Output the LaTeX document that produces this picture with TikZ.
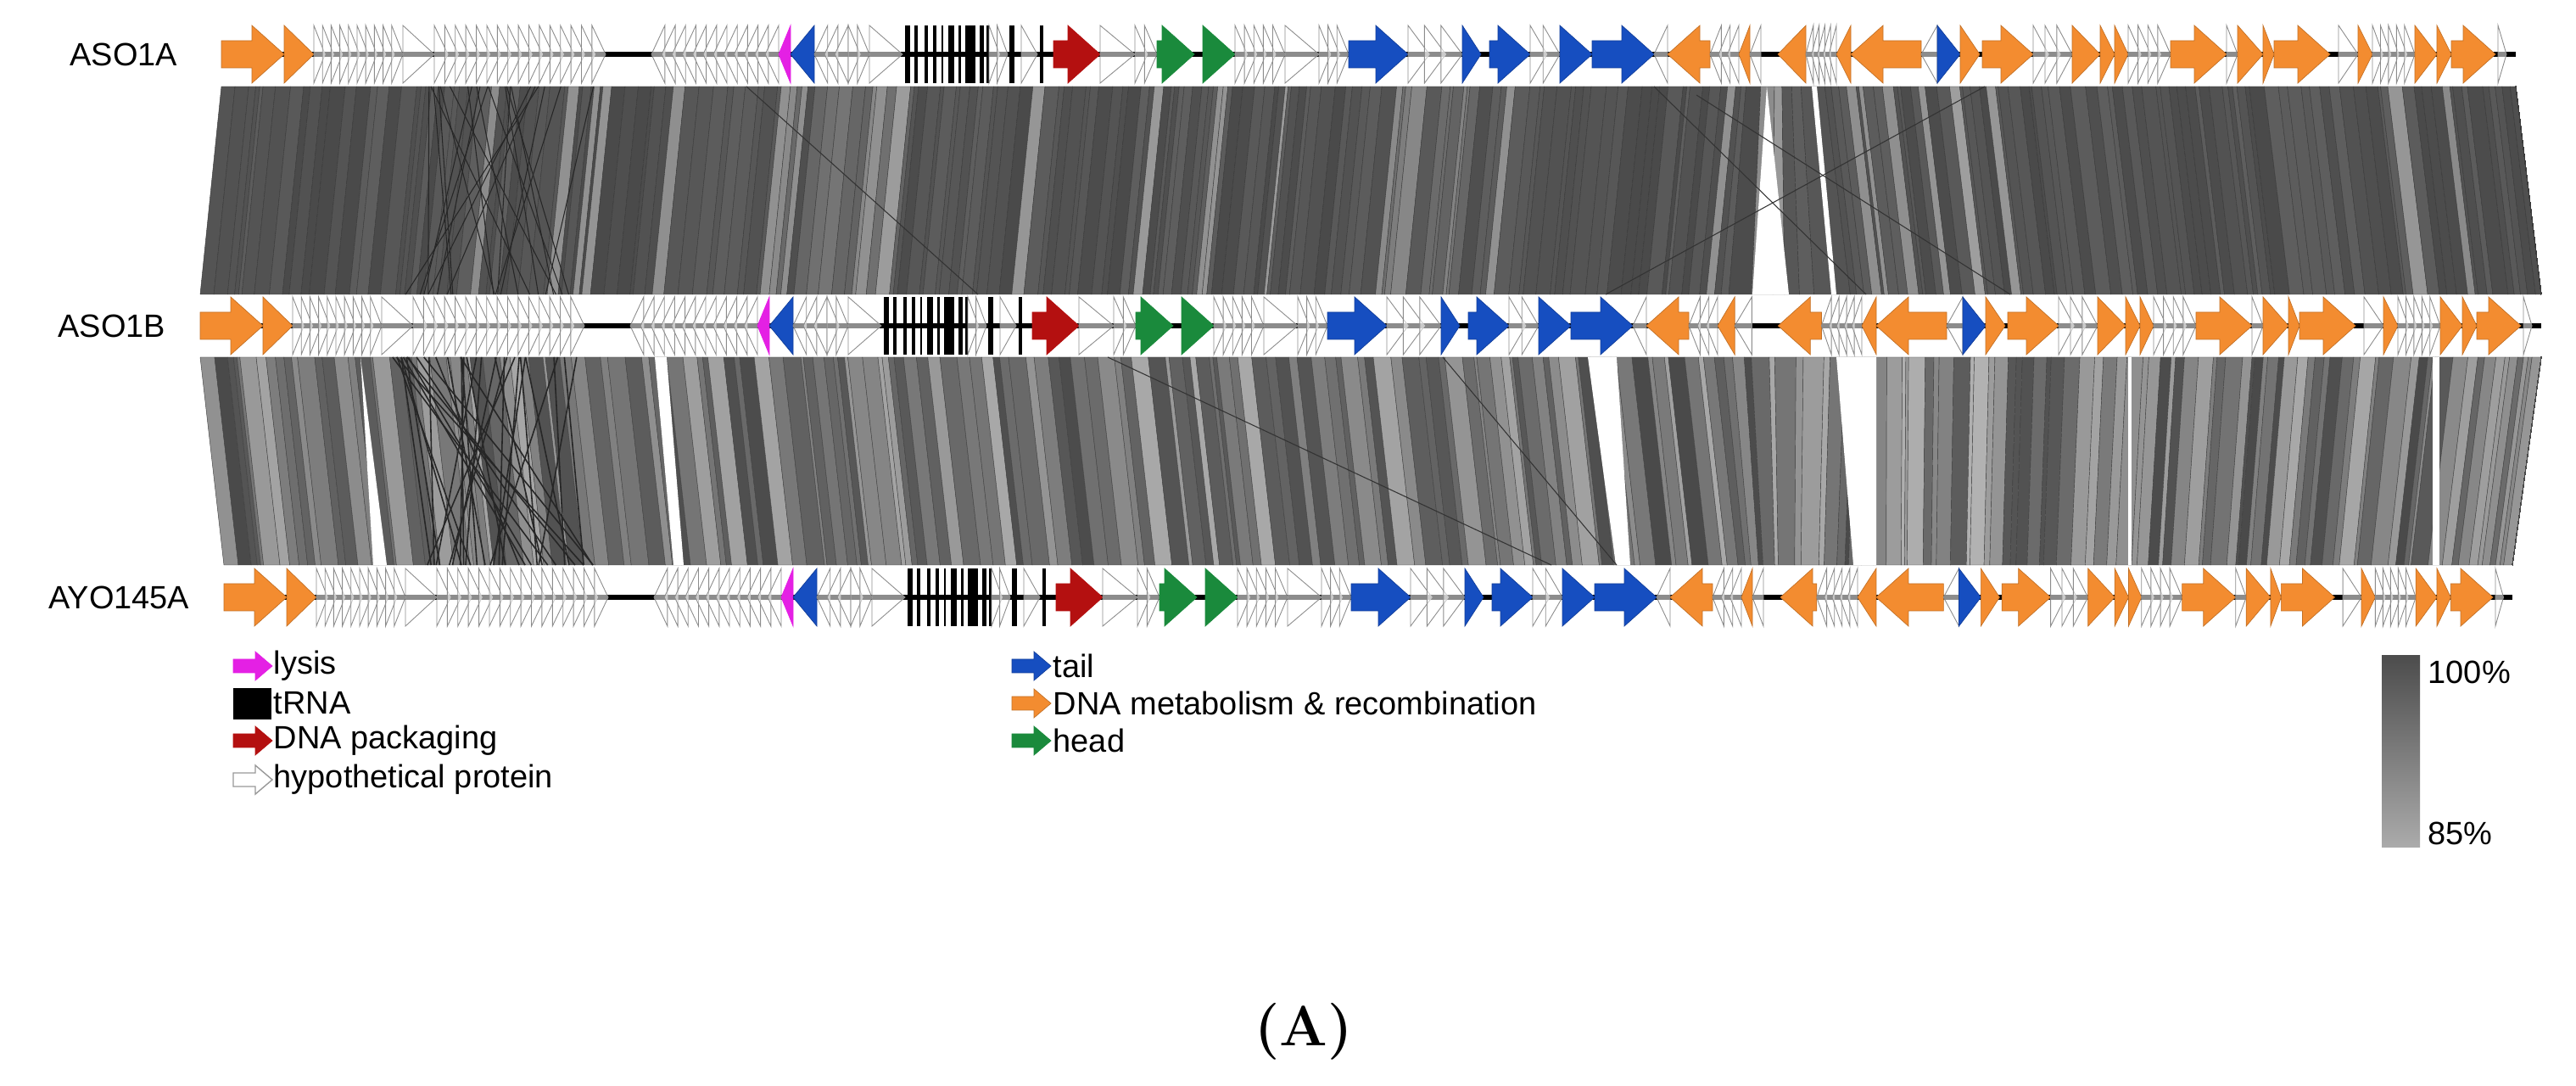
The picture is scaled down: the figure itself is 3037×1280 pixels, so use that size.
\documentclass[tikz,border=0pt]{standalone}
\usepackage{fontspec}
\newfontfamily\lab{Liberation Sans}
\definecolor{org}{RGB}{243,140,48}
\definecolor{tailc}{RGB}{22,78,192}
\definecolor{lysc}{RGB}{228,32,228}
\definecolor{packc}{RGB}{180,16,16}
\definecolor{headc}{RGB}{26,138,60}
\tikzset{
  declare function={
    f1(\x)=\x;
    f2(\x)=\x-25+(\x>2050)*min(55,0.55*(\x-2050));
    f3(\x)=\x+3+(\x>2100)*min(27,0.3375*(\x-2100))-(\x>2180)*0.043257*(\x-2180);
  },
  gorg/.style={fill=org,draw=org!80!black,line width=0.2pt},
  gtail/.style={fill=tailc,draw=tailc!80!black,line width=0.2pt},
  glys/.style={fill=lysc,draw=lysc,line width=0.2pt},
  gpack/.style={fill=packc,draw=packc,line width=0.2pt},
  ghead/.style={fill=headc,draw=headc,line width=0.2pt},
  hyp/.style={fill=white,fill opacity=0.55,draw=black!45,draw opacity=1,line width=0.25pt},
  lbl/.style={font=\lab\fontsize{10.8}{12}\selectfont,inner sep=0pt},
}
\newcommand\Gr[3]{\pgfmathsetmacro\xa{\tf(#1)}\pgfmathsetmacro\xb{\tf(#2)}\pgfmathsetmacro\xh{max(\xa,\xb-38)}%
  \filldraw[#3] (\xa,\ty-16) -- (\xh,\ty-16) -- (\xh,\ty-34) -- (\xb,\ty) -- (\xh,\ty+34) -- (\xh,\ty+16) -- (\xa,\ty+16) -- cycle;}
\newcommand\Gl[3]{\pgfmathsetmacro\xa{\tf(#1)}\pgfmathsetmacro\xb{\tf(#2)}\pgfmathsetmacro\xh{min(\xb,\xa+38)}%
  \filldraw[#3] (\xb,\ty-16) -- (\xh,\ty-16) -- (\xh,\ty-34) -- (\xa,\ty) -- (\xh,\ty+34) -- (\xh,\ty+16) -- (\xb,\ty+16) -- cycle;}
\newcommand\Hr[3]{\pgfmathsetmacro\xa{\tf(#1)}\pgfmathsetmacro\xb{\tf(#2)}\pgfmathsetmacro\dd{(\xb-\xa)/(#3+0.3)}%
  \foreach \k in {1,...,#3}{\pgfmathsetmacro\pa{\xa+(\k-1)*\dd}\pgfmathsetmacro\pb{\pa+1.3*\dd}%
  \filldraw[hyp] (\pa,\ty-34) -- (\pb,\ty) -- (\pa,\ty+34) -- cycle;}}
\newcommand\Hl[3]{\pgfmathsetmacro\xa{\tf(#1)}\pgfmathsetmacro\xb{\tf(#2)}\pgfmathsetmacro\dd{(\xb-\xa)/(#3+0.3)}%
  \foreach \k in {1,...,#3}{\pgfmathsetmacro\pa{\xa+(\k-1)*\dd}\pgfmathsetmacro\pb{\pa+1.3*\dd}%
  \filldraw[hyp] (\pb,\ty-34) -- (\pa,\ty) -- (\pb,\ty+34) -- cycle;}}
\newcommand\Tb[2]{\pgfmathsetmacro\xa{\tf(#1)}\pgfmathsetmacro\xb{\tf(#2)}%
  \fill[black] (\xa,\ty-34) rectangle (\xb,\ty+34);}
\newcommand\genes{%
  \pgfmathsetmacro\xa{\tf(261)}\pgfmathsetmacro\xb{\tf(2966)}%
  \draw[line width=0.06cm] (\xa,\ty) -- (\xb,\ty);
  \Gr{261}{335}{gorg}\Gr{335}{370}{gorg}
  \Hr{370}{475}{10}\Hr{475}{512}{1}\Hr{512}{714}{16}
  \Hl{768}{918}{12}
  \Gl{918}{932}{glys}\Gl{932}{960}{gtail}
  \Hl{960}{1000}{3}\Hr{1000}{1025}{2}\Hr{1025}{1064}{1}
  \Tb{1067}{1073}\Tb{1078}{1082}\Tb{1090}{1094}\Tb{1100}{1104}\Tb{1110}{1112}\Tb{1118}{1125}
  \Tb{1130}{1133}\Tb{1138}{1150}\Tb{1155}{1160}\Tb{1163}{1166}\Tb{1190}{1196}\Tb{1226}{1230}
  \Hr{1166}{1188}{2}\Hr{1204}{1223}{1}
  \Gr{1242}{1297}{gpack}
  \Hr{1297}{1338}{1}\Hr{1338}{1364}{2}
  \Gr{1364}{1408}{ghead}\Gr{1418}{1456}{ghead}
  \Hr{1456}{1515}{5}\Hr{1515}{1555}{1}\Hr{1555}{1590}{3}
  \Gr{1590}{1660}{gtail}\Hr{1660}{1724}{3}\Gr{1724}{1746}{gtail}\Gr{1756}{1804}{gtail}
  \Hr{1804}{1839}{2}\Gr{1839}{1877}{gtail}\Gr{1877}{1950}{gtail}\Hl{1950}{1966}{1}
  \Gl{1966}{2016}{gorg}\Hl{2016}{2050}{3}\Gl{2050}{2063}{gorg}\Hl{2063}{2076}{1}
  \Gl{2096}{2129}{gorg}\Hl{2129}{2165}{5}\Gl{2165}{2182}{gorg}\Gl{2182}{2265}{gorg}
  \Hl{2265}{2284}{1}\Gr{2284}{2311}{gtail}\Gr{2311}{2334}{gorg}\Gr{2337}{2397}{gorg}
  \Hr{2397}{2443}{3}\Gr{2443}{2476}{gorg}\Gr{2476}{2493}{gorg}\Gr{2493}{2509}{gorg}
  \Hr{2509}{2559}{4}\Gr{2559}{2625}{gorg}\Hr{2625}{2638}{1}\Gr{2638}{2668}{gorg}
  \Gr{2668}{2681}{gorg}\Gr{2681}{2747}{gorg}\Hr{2757}{2780}{1}\Gr{2780}{2797}{gorg}
  \Hr{2797}{2847}{5}\Gr{2847}{2873}{gorg}\Gr{2873}{2890}{gorg}\Gr{2890}{2942}{gorg}
  \Hr{2945}{2955}{1}
}
\begin{document}
\begin{tikzpicture}[x=0.01cm,y=-0.01cm]
\useasboundingbox[fill=white] (0,0) rectangle (3037,1280);
% ---- band 1
\pgfmathsetseed{7}
\xdef\cx{261}
\foreach \i in {1,...,330}{
  \pgfmathsetmacro\nx{min(\cx+3+15*rnd,2966)}
  \pgfmathtruncatemacro\g{(\cx>870 && \cx<1080) ? 38+32*rnd : ((\cx>1640 && \cx<1760) ? 45+25*rnd : 63+9*rnd-(rnd>0.88)*25)}
  \filldraw[fill=black!\g,draw=black!78,line width=0.12pt] (\cx,102) -- (\nx,102) -- ({f2(\nx)},347) -- ({f2(\cx)},347) -- cycle;
  \xdef\cx{\nx}
}
\foreach \i in {1,...,22}{
  \draw[black!85,line width=0.3pt] ({500+200*rnd},102) -- ({f2(500+200*rnd)},347);
}
\fill[white] (2083,102) -- (2066,347) -- (2109,347) -- cycle;
\fill[white] (2136,102) -- (2142,102) -- (2165,347) -- (2159,347) -- cycle;
\draw[black!80,line width=0.3pt] (880,102) -- (1153,347);
\draw[black!80,line width=0.3pt] (1893,347) -- (2340,102);
\draw[black!80,line width=0.3pt] (2000,112) -- (2370,347);
\draw[black!80,line width=0.3pt] (1950,102) -- (2200,347);
% ---- band 2
\xdef\cx{261}
\foreach \i in {1,...,330}{
  \pgfmathsetmacro\nx{min(\cx+3+18*rnd,2966)}
  \pgfmathtruncatemacro\g{(\cx>2180 && \cx<2480) ? 30+40*rnd : 34+38*rnd}
  \filldraw[fill=black!\g,draw=black!75,line width=0.12pt] ({f2(\cx)},421) -- ({f2(\nx)},421) -- ({f3(\nx)},666) -- ({f3(\cx)},666) -- cycle;
  \xdef\cx{\nx}
}
\foreach \i in {1,...,34}{
  \draw[black!85,line width=0.45pt] ({460+220*rnd},421) -- ({500+200*rnd},666);
}
\fill[white] (425,421) -- (440,666) -- (456,666) -- cycle;
\fill[white] (772,421) -- (786,421) -- (806,666) -- (794,666) -- cycle;
\fill[white] (1872,421) -- (1906,421) -- (1922,666) -- (1905,666) -- cycle;
\fill[white] (2165,421) -- (2212,421) -- (2212,666) -- (2185,666) -- cycle;
\fill[white] (2509,421) -- (2513,421) -- (2513,666) -- (2509,666) -- cycle;
\fill[white] (2868,421) -- (2876,421) -- (2876,666) -- (2868,666) -- cycle;
\draw[black!80,line width=0.3pt] (1306,421) -- (1829,666);
\draw[black!80,line width=0.3pt] (1701,421) -- (1906,666);
% ---- tracks
\def\tf{f1}\def\ty{64}\genes
\def\tf{f2}\def\ty{384}\genes
\def\tf{f3}\def\ty{704}\genes
\node[lbl,anchor=east] (t1) at (210,64) {ASO1A};
\node[lbl,anchor=east] (t2) at (196,384) {ASO1B};
\node[lbl,anchor=east] (t3) at (224,704) {AYO145A};
% ---- legend
\newcommand\legar[3]{\filldraw[#3] (#1,#2-8) -- (#1+26,#2-8) -- (#1+26,#2-17) -- (#1+46,#2) -- (#1+26,#2+17) -- (#1+26,#2+8) -- (#1,#2+8) -- cycle;}
\legar{275}{785}{glys}
\fill[black] (275,811) rectangle (320,848);
\legar{275}{873}{gpack}
\legar{275}{919}{fill=white,draw=black!40,line width=0.4pt}
\legar{1193}{785}{gtail}
\legar{1193}{829}{gorg}
\legar{1193}{873}{ghead}
\node[lbl,anchor=west] (l1) at (322,785) {lysis};
\node[lbl,anchor=west] (l2) at (322,829) {tRNA};
\node[lbl,anchor=west] (l3) at (322,873) {DNA packaging};
\node[lbl,anchor=west] (l4) at (322,919) {hypothetical protein};
\node[lbl,anchor=west] (l5) at (1241,785) {tail};
\node[lbl,anchor=west] (l6) at (1241,829) {DNA metabolism \& recombination};
\node[lbl,anchor=west] (l7) at (1241,873) {head};
\shade[top color=black!70,bottom color=black!33] (2808,773) rectangle (2853,999);
\node[lbl,anchor=west] (s1) at (2862,792) {100\%};
\node[lbl,anchor=west] (s2) at (2862,982) {85\%};
\node[font=\fontsize{19}{22}\selectfont\bfseries] (cap) at (1537,1216) {(A)};
\end{tikzpicture}
\end{document}
